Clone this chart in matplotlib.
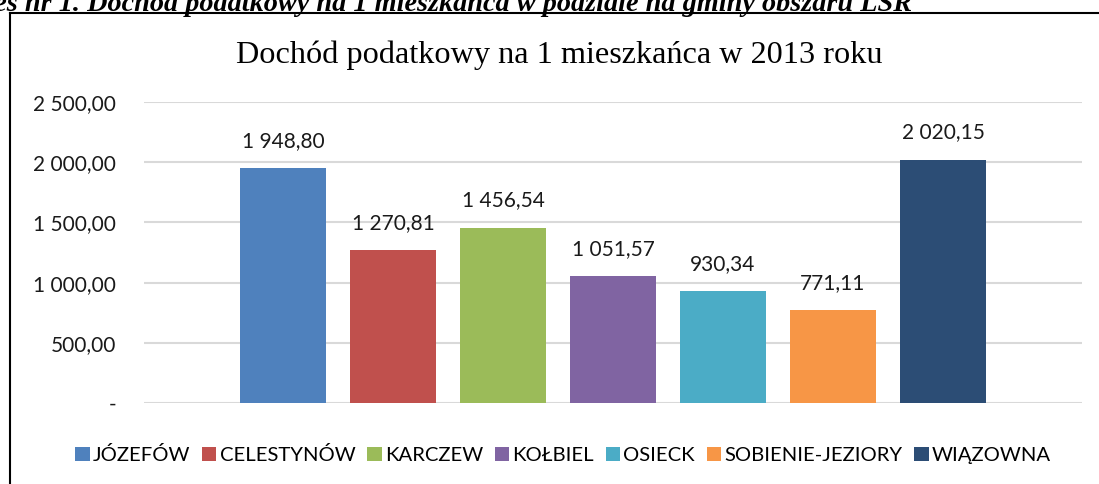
import numpy as np
import matplotlib
matplotlib.use('Agg')
import matplotlib.pyplot as plt
from matplotlib.lines import Line2D
from matplotlib.patches import Patch

gminy = ['JÓZEFÓW', 'CELESTYNÓW', 'KARCZEW', 'KOŁBIEL', 'OSIECK',
         'SOBIENIE-JEZIORY', 'WIĄZOWNA']
dochod = [1948.80, 1270.81, 1456.54, 1051.57, 930.34, 771.11, 2020.15]
kolory = ['#4F81BD', '#C0504D', '#9BBB59', '#8064A2', '#4BACC6',
          '#F79646', '#2C4D75']
yticks = [0, 500, 1000, 1500, 2000, 2500]

W, H = 1099, 484


def fmt(v):
    if v == 0:
        return '-'
    s = '{:,.2f}'.format(v)
    return s.replace(',', ' ').replace('.', ',')


fig = plt.figure(figsize=(W / 100, H / 100), dpi=100)
ax = fig.add_axes([144 / W, 1 - 403 / H, (1082 - 144) / W, (403 - 102) / H])

x = np.arange(len(gminy))
bars = ax.bar(x, dochod, width=0.79, color=kolory, zorder=3)
for xi, v in zip(x, dochod):
    ax.annotate(fmt(v), (xi, v), xytext=(0, 12.5), textcoords='offset points',
                ha='center', va='bottom', fontsize=15, family='Lato',
                color='#1a1a1a')

ax.set_xlim(-1.264, 7.264)
ax.set_ylim(0, 2500)
ax.set_yticks(yticks)
ax.set_yticklabels([fmt(t) for t in yticks], family='Lato', fontsize=15,
                   color='#1a1a1a')
ax.set_xticks([])
ax.tick_params(axis='y', length=0, pad=20)
ax.yaxis.grid(True, color='#D9D9D9', linewidth=1.5, zorder=0)
ax.set_axisbelow(True)
for s in ax.spines.values():
    s.set_visible(False)

fig.text(559 / W, 1 - 55 / H,
         'Dochód podatkowy na 1 mieszkańca w 2013 roku',
         ha='center', va='center', family='Liberation Serif', fontsize=23.2)

handles = [Patch(facecolor=c, edgecolor='none') for c in kolory]
fig.legend(handles, gminy, loc='center', bbox_to_anchor=(563 / W, 1 - 455 / H),
           ncol=7, frameon=False, prop={'family': 'Lato', 'size': 14.6},
           handlelength=0.72, handleheight=0.72, handletextpad=0.15,
           columnspacing=0.58)

# ramka wykresu i podpis nad nia (uciety u gory)
fig.add_artist(Line2D([9.5 / W, 9.5 / W], [0, 1 - 13 / H], color='black',
                      linewidth=1.5, transform=fig.transFigure))
fig.add_artist(Line2D([9.5 / W, 1], [1 - 13 / H, 1 - 13 / H], color='black',
                      linewidth=1.5, transform=fig.transFigure))
fig.text(912 / W, 1 - 11 / H,
         'Wykres nr 1. Dochód podatkowy na 1 mieszkańca w podziale na gminy obszaru LSR',
         ha='right', va='baseline', family='Liberation Serif', fontsize=20.3,
         fontweight='bold', fontstyle='italic')

fig.savefig('out.png', dpi=100)
